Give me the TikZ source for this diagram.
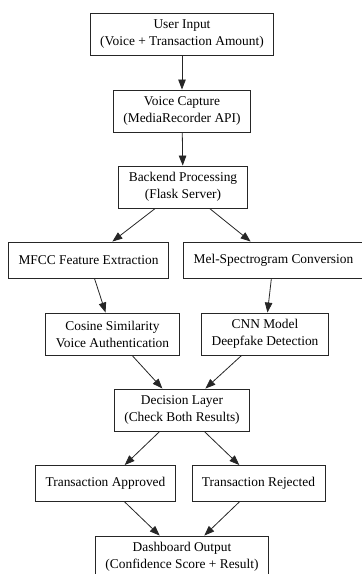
\documentclass[tikz,border=0pt]{standalone}
\usepackage{fontspec}
\setmainfont{Liberation Serif}
\usetikzlibrary{arrows.meta}

\begin{document}
\begin{tikzpicture}[x=1pt, y=-1pt,
  box/.style={draw=black!85, line width=0.9pt, fill=white, align=center,
    font=\fontsize{13.4}{17}\selectfont, inner xsep=10pt, inner ysep=0pt,
    minimum height=36pt},
  tallbox/.style={box, minimum height=42pt},
  flow/.style={draw=black!85, line width=0.8pt,
    -{Triangle[length=10pt, width=7.5pt]}}]

  \useasboundingbox (0,0) rectangle (362,574);
  \clip (0,0) rectangle (362,574);

  % pipeline stages
  \node[tallbox] (input)  at (182,34.5) {User Input\\(Voice + Transaction Amount)};
  \node[tallbox] (capture) at (182,111) {Voice Capture\\(MediaRecorder API)};
  \node[tallbox] (backend) at (183,187) {Backend Processing\\(Flask Server)};
  \node[box]     (mfcc)   at (88.5,260) {MFCC Feature Extraction};
  \node[box]     (mel)    at (273.5,260) {Mel-Spectrogram Conversion};
  \node[tallbox] (cosine) at (112.5,334) {Cosine Similarity\\Voice Authentication};
  \node[tallbox] (cnn)    at (265,334) {CNN Model\\Deepfake Detection};
  \node[tallbox] (decide) at (182,410) {Decision Layer\\(Check Both Results)};
  \node[box]     (ok)     at (105.5,483.5) {Transaction Approved};
  \node[box]     (reject) at (258.5,483.5) {Transaction Rejected};
  \node[tallbox] (dash)   at (182,557) {Dashboard Output\\(Confidence Score + Result)};

  % connectors
  \draw[flow] (input) -- (capture);
  \draw[flow] (capture) -- (backend);
  \draw[flow] (backend) -- (mfcc);
  \draw[flow] (backend) -- (mel);
  \draw[flow] (mfcc) -- (cosine);
  \draw[flow] (mel) -- (cnn);
  \draw[flow] (cosine) -- (decide);
  \draw[flow] (cnn) -- (decide);
  \draw[flow] (decide) -- (ok);
  \draw[flow] (decide) -- (reject);
  \draw[flow] (ok) -- (dash);
  \draw[flow] (reject) -- (dash);
\end{tikzpicture}
\end{document}
